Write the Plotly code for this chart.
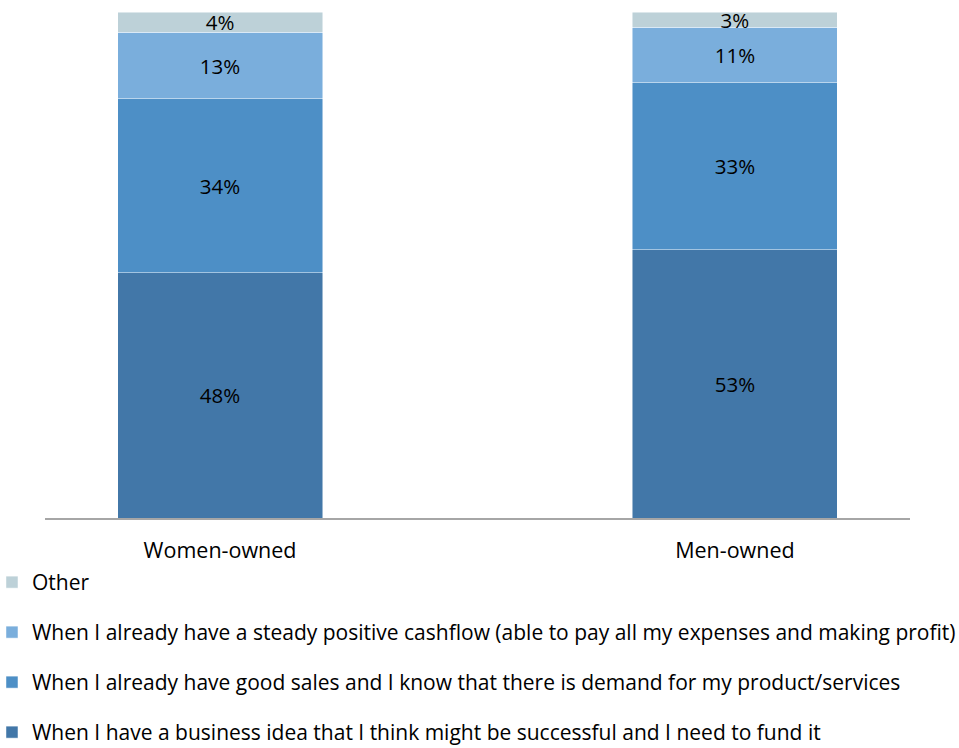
import plotly.graph_objects as go

categories = ["Women-owned", "Men-owned"]
series_names = [
    "When I have a business idea that I think might be successful and I need to fund it",
    "When I already have good sales and I know that there is demand for my product/services",
    "When I already have a steady positive cashflow (able to pay all my expenses and making profit)",
    "Other",
]
idea_vals = [48, 53]
sales_vals = [34, 33]
cashflow_vals = [13, 11]
other_vals = [4, 3]
colors = ["#4277A8", "#4D8FC6", "#7AAEDC", "#BDD1D8"]
legend_ranks = [4, 3, 2, 1]

series_vals = [idea_vals, sales_vals, cashflow_vals, other_vals]
FONT = "Open Sans"

fig = go.Figure()
for i, (name, vals, col) in enumerate(zip(series_names, series_vals, colors)):
    fig.add_trace(go.Bar(
        x=categories, y=vals, name=name,
        marker=dict(color=col, line=dict(color="rgba(255,255,255,0.6)", width=0.8)),
        text=[f"{v}%" for v in vals], textposition="inside", insidetextanchor="middle",
        constraintext="none",
        textfont=dict(family=FONT, size=20.5, color="#000000"),
        legendgroup=f"g{i}", legendrank=legend_ranks[i],
        width=0.398,
    ))

fig.update_layout(
    barmode="stack", barnorm="percent",
    width=959, height=748,
    margin=dict(l=45, r=49, t=12, b=230, autoexpand=False),
    paper_bgcolor="white", plot_bgcolor="white",
    font=dict(family=FONT, size=20.5, color="#000000"),
    showlegend=True,
    legend=dict(
        orientation="v",
        x=-0.0613, xanchor="left", y=-0.4644, yanchor="bottom",
        traceorder="grouped", tracegroupgap=19.7,
        font=dict(family=FONT, size=21, color="#000000"),
        bgcolor="rgba(0,0,0,0)",
    ),
    xaxis=dict(
        range=[-0.34, 1.34], showline=True, linecolor="#A6A6A6", linewidth=1.5,
        ticks="", showgrid=False, zeroline=False,
        tickfont=dict(family=FONT, size=21.5, color="#000000"),
        ticklabelstandoff=12,
    ),
    yaxis=dict(range=[0, 100], visible=False, showgrid=False, zeroline=False),
)

fig.write_html("out.html", config={"displayModeBar": False},
               post_script="document.body.style.margin='0';")
